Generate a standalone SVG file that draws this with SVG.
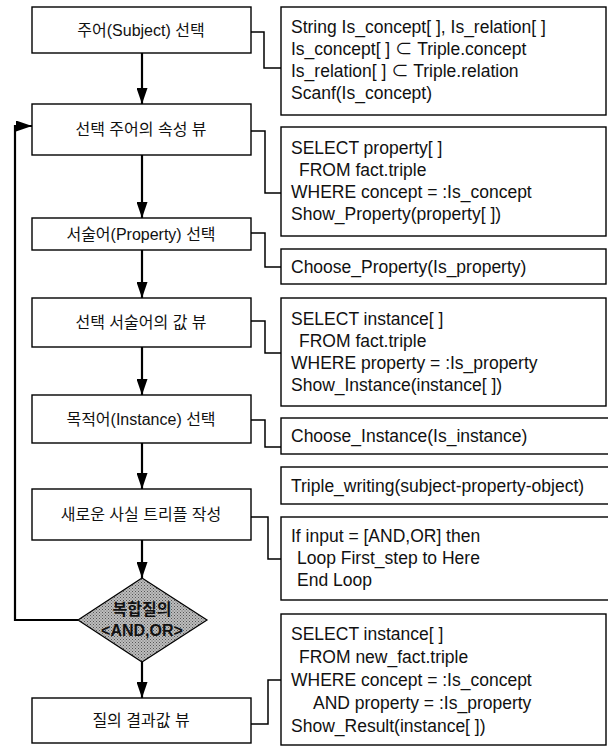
<svg xmlns="http://www.w3.org/2000/svg" width="608" height="747" viewBox="0 0 608 747">
<style>
.box{fill:#fff;stroke:#000;stroke-width:1.4}
.kt{font-family:"Liberation Sans","Noto Sans CJK KR",sans-serif;font-size:16px;fill:#111;text-anchor:middle;dominant-baseline:central}
.ct{font-family:"Liberation Sans","Noto Sans CJK KR",sans-serif;font-size:17.5px;fill:#111;dominant-baseline:central}
.flow{fill:none;stroke:#000;stroke-width:2.2}
.conn{fill:none;stroke:#000;stroke-width:1.5}
.dia{fill:url(#ht);stroke:#000;stroke-width:1.2}
.dt{font-family:"Liberation Sans","Noto Sans CJK KR",sans-serif;font-size:16px;font-weight:bold;fill:#111;text-anchor:middle;dominant-baseline:central}
</style>
<defs>
<marker id="ah" markerUnits="userSpaceOnUse" markerWidth="16" markerHeight="11" refX="16" refY="5.5" orient="auto">
<path d="M0,0 L16,5.5 L0,11 Z" fill="#000"/>
</marker>
<pattern id="ht" patternUnits="userSpaceOnUse" width="3" height="3">
<rect width="3" height="3" fill="#bdbdbd"/>
<rect x="0" y="0" width="1" height="1" fill="#555"/>
<rect x="1.5" y="1.5" width="1" height="1" fill="#666"/>
</pattern>
</defs>
<rect width="608" height="747" fill="#fff"/>

<g id="connectors">
<path class="flow" d="M142,53 V104" marker-end="url(#ah)"/>
<path class="flow" d="M142,155 V218" marker-end="url(#ah)"/>
<path class="flow" d="M142,250 V298" marker-end="url(#ah)"/>
<path class="flow" d="M142,347 V395" marker-end="url(#ah)"/>
<path class="flow" d="M142,443 V489" marker-end="url(#ah)"/>
<path class="flow" d="M142,540 V578" marker-end="url(#ah)"/>
<path class="flow" d="M142,662 V698" marker-end="url(#ah)"/>
<path class="flow" d="M78,620 H15 V126 H32" marker-end="url(#ah)" stroke-width="2.6"/>
<path class="conn" d="M251,32 H264 V68 H281"/>
<path class="conn" d="M251,131 H265 V193 H281"/>
<path class="conn" d="M251,233 H265 V267 H281"/>
<path class="conn" d="M251,321 H265 V353 H281"/>
<path class="conn" d="M251,420 H265 V447 H281"/>
<path class="conn" d="M251,517 H268 V559 H281"/>
<path class="conn" d="M251,724 H268 V680 H281"/>
</g>

<g id="b1"><rect class="box" x="32" y="7" width="219" height="46"/><text class="kt" x="141" y="30">주어(Subject) 선택</text></g>
<g id="b2"><rect class="box" x="32" y="104" width="219" height="51"/><text class="kt" x="141" y="129.5">선택 주어의 속성 뷰</text></g>
<g id="b3"><rect class="box" x="32" y="218" width="219" height="32"/><text class="kt" x="141" y="234">서술어(Property) 선택</text></g>
<g id="b4"><rect class="box" x="32" y="298" width="219" height="49"/><text class="kt" x="141" y="322.5">선택 서술어의 값 뷰</text></g>
<g id="b5"><rect class="box" x="32" y="395" width="219" height="48"/><text class="kt" x="141" y="419">목적어(Instance) 선택</text></g>
<g id="b6"><rect class="box" x="32" y="489" width="219" height="51"/><text class="kt" x="141" y="514.5">새로운 사실 트리플 작성</text></g>
<g id="d1"><polygon class="dia" points="142,578 207,620 142,662 78,620"/><text class="dt" x="142" y="609">복합질의</text><text class="dt" x="142" y="630">&lt;AND,OR&gt;</text></g>
<g id="b7"><rect class="box" x="32" y="698" width="219" height="45"/><text class="kt" x="141" y="720">질의 결과값 뷰</text></g>

<g id="r1"><rect class="box" x="281" y="7" width="325" height="108"/>
<text class="ct" x="291" y="27">String Is_concept[ ], Is_relation[ ]</text>
<text class="ct" x="291" y="49">Is_concept[ ] ⊂ Triple.concept</text>
<text class="ct" x="291" y="71">Is_relation[ ] ⊂ Triple.relation</text>
<text class="ct" x="291" y="93">Scanf(Is_concept)</text></g>
<g id="r2"><rect class="box" x="281" y="127" width="325" height="109"/>
<text class="ct" x="291" y="148">SELECT property[ ]</text>
<text class="ct" x="299" y="170">FROM fact.triple</text>
<text class="ct" x="291" y="192">WHERE concept = :Is_concept</text>
<text class="ct" x="291" y="214">Show_Property(property[ ])</text></g>
<g id="r3"><rect class="box" x="281" y="249" width="325" height="35"/>
<text class="ct" x="291" y="266.5">Choose_Property(Is_property)</text></g>
<g id="r4"><rect class="box" x="281" y="298" width="325" height="108"/>
<text class="ct" x="291" y="319">SELECT instance[ ]</text>
<text class="ct" x="299" y="341">FROM fact.triple</text>
<text class="ct" x="291" y="363">WHERE property = :Is_property</text>
<text class="ct" x="291" y="385">Show_Instance(instance[ ])</text></g>
<g id="r5"><rect class="box" x="281" y="418" width="330" height="36"/>
<text class="ct" x="291" y="436">Choose_Instance(Is_instance)</text></g>
<g id="r6"><rect class="box" x="281" y="467" width="330" height="37"/>
<text class="ct" x="291" y="485.5">Triple_writing(subject-property-object)</text></g>
<g id="r7"><rect class="box" x="281" y="517" width="330" height="83"/>
<text class="ct" x="291" y="536">If input = [AND,OR] then</text>
<text class="ct" x="297" y="558">Loop First_step to Here</text>
<text class="ct" x="297" y="580">End Loop</text></g>
<g id="r8"><rect class="box" x="281" y="614" width="325" height="131"/>
<text class="ct" x="291" y="634">SELECT instance[ ]</text>
<text class="ct" x="299" y="657">FROM new_fact.triple</text>
<text class="ct" x="291" y="680">WHERE concept = :Is_concept</text>
<text class="ct" x="313" y="703">AND  property = :Is_property</text>
<text class="ct" x="291" y="726">Show_Result(instance[ ])</text></g>
</svg>
